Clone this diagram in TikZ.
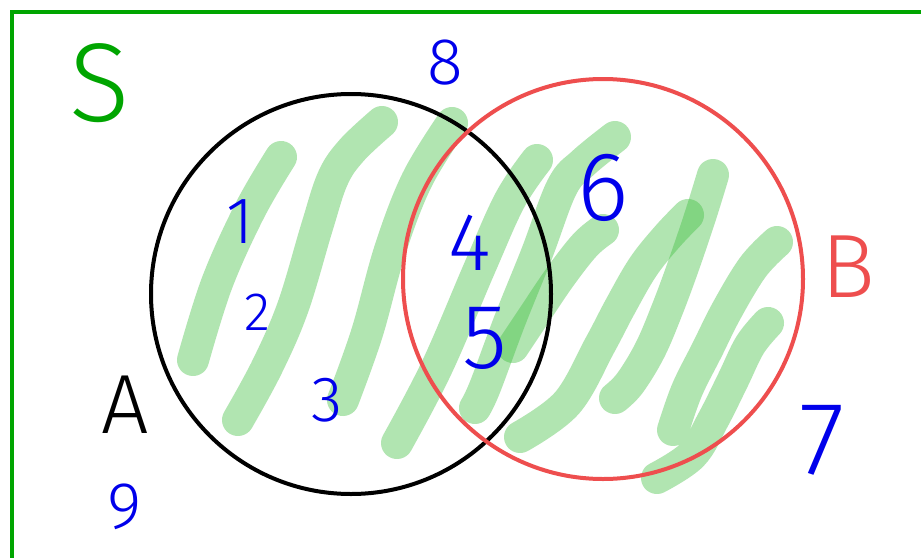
\documentclass[tikz,border=0pt]{standalone}
\usepackage{fontspec}
\setmainfont{Fira Sans}[UprightFont={* Light}]
\definecolor{frameg}{RGB}{0,165,0}
\definecolor{hlg}{RGB}{60,190,60}
\definecolor{penblue}{RGB}{0,0,235}
\definecolor{penred}{RGB}{238,78,78}
\tikzset{
  hl/.style={line width=32pt, line cap=round, line join=round, draw=hlg, draw opacity=0.4},
  lbl/.style={inner sep=0pt, anchor=center},
}
\newcommand{\fsz}[1]{\fontsize{#1}{#1}\selectfont}
\begin{document}
\begin{tikzpicture}[x=1pt,y=-1pt]
\useasboundingbox (0,0) rectangle (921,557);
\fill[white] (0,0) rectangle (921,557);
% frame
\coordinate (fbl) at (12,560);
\coordinate (ftl) at (12,12);
\coordinate (ftr) at (925,12);
\draw[frameg, line width=4pt] (fbl) -- (ftl) -- (ftr);
% highlighter strokes a-d (one path)
\draw[hl] plot[smooth, tension=0.6] coordinates {(193,360) (217,283) (250,210) (281,157)}
          plot[smooth, tension=0.6] coordinates {(238,420) (267,367) (293,307) (317,227) (333,178) (352,150) (382,122)}
          plot[smooth, tension=0.6] coordinates {(343,400) (367,333) (390,250) (417,180) (452,123)}
          plot[smooth, tension=0.6] coordinates {(397,443) (437,367) (480,267) (510,200) (537,160)};
% e
\draw[hl] plot[smooth, tension=0.6] coordinates {(475,408) (485,387) (510,320) (537,253) (562,187) (583,163) (615,137)};
% f
\draw[hl] plot[smooth, tension=0.6] coordinates {(513,347) (533,317) (560,277) (585,245) (603,230)};
% g
\draw[hl] plot[smooth, tension=0.6] coordinates {(520,437) (567,403) (600,345) (620,307) (643,267) (667,237) (688,215)};
% h
\draw[hl] plot[smooth, tension=0.6] coordinates {(615,398) (630,383) (650,350) (667,310) (683,267) (700,217) (713,175)};
% i, j (one path)
\draw[hl] plot[smooth, tension=0.6] coordinates {(673,430) (687,390) (707,350) (727,310) (753,267) (777,242)}
          plot[smooth, tension=0.6] coordinates {(657,478) (692,455) (713,420) (733,380) (750,345) (768,323)};
% circles
\node[draw=black, line width=4pt, circle, minimum size=400pt, inner sep=0pt] (A) at (351,294) {};
\node[draw=penred, line width=4pt, circle, minimum size=400pt, inner sep=0pt] (B) at (603,279) {};
% labels
\node[lbl, text=frameg] (ls) at (100,83) {\fsz{112}S};
\node[lbl, text=black] (la) at (125,405) {\fsz{84}A};
\node[lbl, text=penred] (lb) at (848,267) {\fsz{90}B};
\node[lbl, text=penblue] (n1) at (240,222) {\fsz{66}1};
\node[lbl, text=penblue] (n2) at (257,312) {\fsz{54}2};
\node[lbl, text=penblue] (n3) at (327,400) {\fsz{64}3};
\node[lbl, text=penblue] (n4) at (470,243) {\fsz{82}4};
\node[lbl, text=penblue] (n5) at (485,338) {\fsz{92}5};
\node[lbl, text=penblue] (n6) at (603,188) {\fsz{98}6};
\node[lbl, text=penblue] (n7) at (822,440) {\fsz{104}7};
\node[lbl, text=penblue] (n8) at (445,63) {\fsz{66}8};
\node[lbl, text=penblue] (n9) at (125,507) {\fsz{66}9};
\end{tikzpicture}
\end{document}
